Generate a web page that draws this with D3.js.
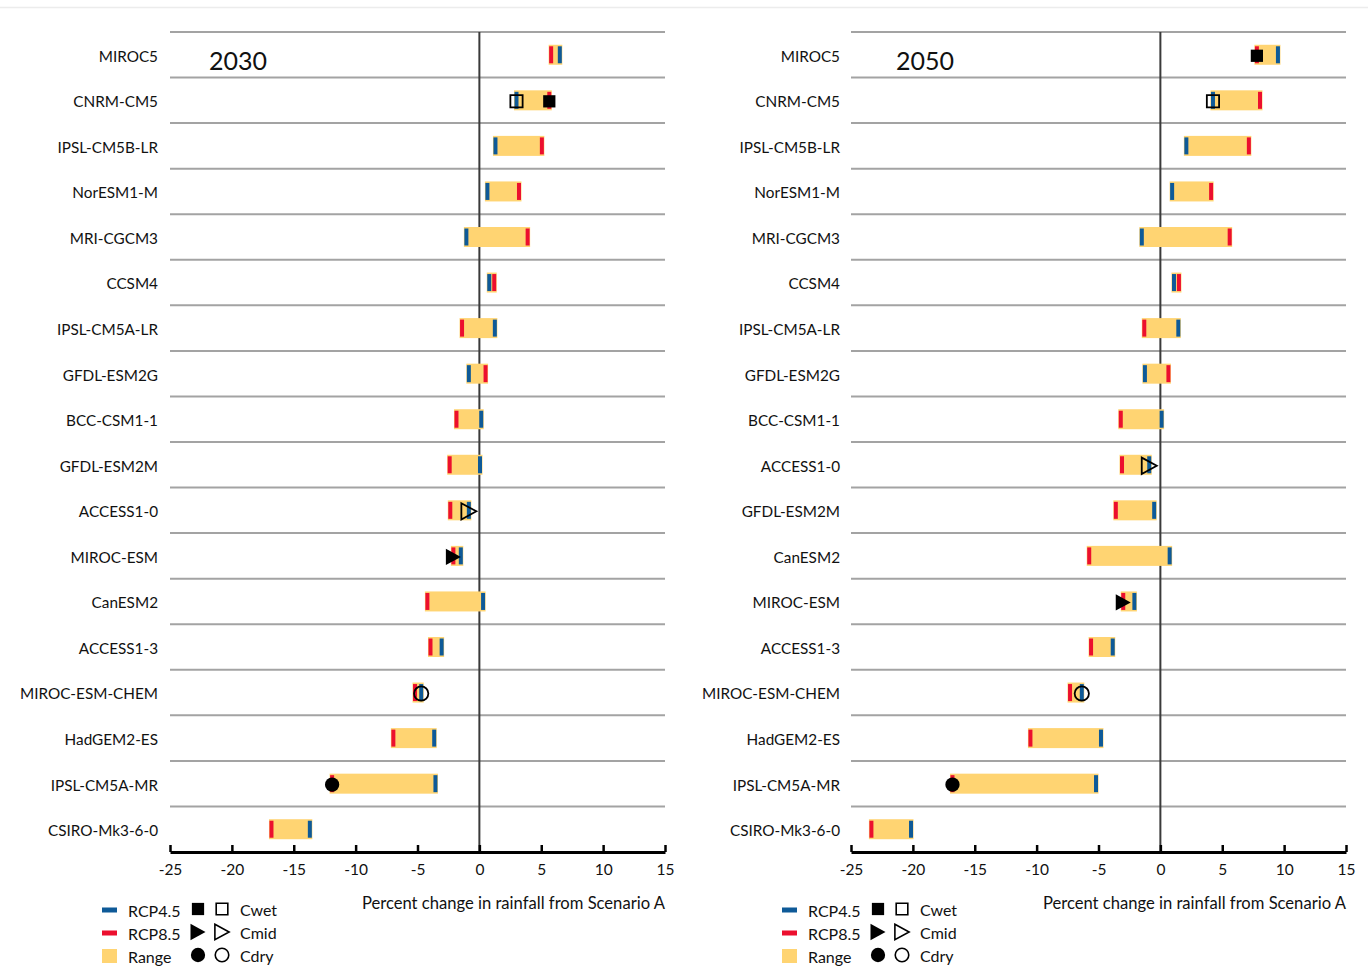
<!DOCTYPE html>
<html>
<head>
<meta charset="utf-8">
<script src="https://cdn.jsdelivr.net/npm/d3@7/dist/d3.min.js"></script>
<style>
  html, body { margin: 0; padding: 0; background: #fff; }
  svg { display: block; }
  text { font-family: Lato, "Open Sans", sans-serif; fill: #111; }
</style>
</head>
<body>
<svg id="chart" width="1368" height="972"></svg>
<script>
// Percent change in rainfall from Scenario A, per GCM, for two horizons.
const models2030 = ["MIROC5", "CNRM-CM5", "IPSL-CM5B-LR", "NorESM1-M", "MRI-CGCM3", "CCSM4",
  "IPSL-CM5A-LR", "GFDL-ESM2G", "BCC-CSM1-1", "GFDL-ESM2M", "ACCESS1-0", "MIROC-ESM",
  "CanESM2", "ACCESS1-3", "MIROC-ESM-CHEM", "HadGEM2-ES", "IPSL-CM5A-MR", "CSIRO-Mk3-6-0"];
const rcp45_2030 = [6.5, 3.0, 1.3, 0.65, -1.05, 0.8, 1.25, -0.85, 0.15, 0.05, -0.85, -1.5,
  0.3, -3.05, -4.7, -3.65, -3.55, -13.7];
const rcp85_2030 = [5.8, 5.65, 5.05, 3.2, 3.9, 1.2, -1.4, 0.5, -1.85, -2.4, -2.35, -2.1,
  -4.2, -3.95, -5.2, -6.95, -11.9, -16.8];

const models2050 = ["MIROC5", "CNRM-CM5", "IPSL-CM5B-LR", "NorESM1-M", "MRI-CGCM3", "CCSM4",
  "IPSL-CM5A-LR", "GFDL-ESM2G", "BCC-CSM1-1", "ACCESS1-0", "GFDL-ESM2M", "CanESM2",
  "MIROC-ESM", "ACCESS1-3", "MIROC-ESM-CHEM", "HadGEM2-ES", "IPSL-CM5A-MR", "CSIRO-Mk3-6-0"];
const rcp45_2050 = [9.5, 4.25, 2.1, 0.95, -1.5, 1.1, 1.45, -1.25, 0.1, -0.9, -0.5, 0.75,
  -2.1, -3.85, -6.35, -4.8, -5.2, -20.15];
const rcp85_2050 = [7.8, 8.05, 7.15, 4.1, 5.6, 1.5, -1.3, 0.65, -3.2, -3.1, -3.6, -5.75,
  -3.0, -5.6, -7.3, -10.5, -16.8, -23.35];

// Selected climate cases: [model, scenario, case]
const cases2030 = [["CNRM-CM5", "RCP4.5", "Cwet"], ["CNRM-CM5", "RCP8.5", "Cwet"],
  ["ACCESS1-0", "RCP4.5", "Cmid"], ["MIROC-ESM", "RCP8.5", "Cmid"],
  ["MIROC-ESM-CHEM", "RCP4.5", "Cdry"], ["IPSL-CM5A-MR", "RCP8.5", "Cdry"]];
const cases2050 = [["MIROC5", "RCP8.5", "Cwet"], ["CNRM-CM5", "RCP4.5", "Cwet"],
  ["ACCESS1-0", "RCP4.5", "Cmid"], ["MIROC-ESM", "RCP8.5", "Cmid"],
  ["MIROC-ESM-CHEM", "RCP4.5", "Cdry"], ["IPSL-CM5A-MR", "RCP8.5", "Cdry"]];

const xTicks = [-25, -20, -15, -10, -5, 0, 5, 10, 15];
const xDomain = [-25, 15];
const axisTitle = "Percent change in rainfall from Scenario A";
const legendSeries = ["RCP4.5", "RCP8.5", "Range"];
const legendCases = ["Cwet", "Cmid", "Cdry"];

const COLORS = { "RCP4.5": "#0E5A98", "RCP8.5": "#EC0F2E", range: "#FFD472" };

// Right-pointing triangle, centred on its bounding box
const symbolTriRight = {
  draw(ctx, size) {
    const h = Math.sqrt(size) * 1.25, w = h * 0.92;
    ctx.moveTo(-w / 2, -h / 2);
    ctx.lineTo(w / 2, 0);
    ctx.lineTo(-w / 2, h / 2);
    ctx.closePath();
  }
};
const caseSymbol = { Cwet: d3.symbolSquare, Cmid: symbolTriRight, Cdry: d3.symbolCircle };
const caseSize = { Cwet: 150, Cmid: 170, Cdry: 160 };

const svg = d3.select("#chart");

// faint frame line along the top
svg.append("line").attr("x1", 0).attr("x2", 1368).attr("y1", 7.5).attr("y2", 7.5)
  .attr("stroke", "#ececec").attr("stroke-width", 1.5);

const panels = [
  { models: models2030, r45: rcp45_2030, r85: rcp85_2030, cases: cases2030, year: "2030",
    x0: 170, x1: 665, labelX: 158, yearX: 209, legX: 102 },
  { models: models2050, r45: rcp45_2050, r85: rcp85_2050, cases: cases2050, year: "2050",
    x0: 851, x1: 1346, labelX: 840, yearX: 896, legX: 782 }
];

const yTop = 32, yBottom = 852;

panels.forEach(p => {
  const g = svg.append("g");
  const x = d3.scaleLinear().domain(xDomain).range([p.x0, p.x1]);
  const y = d3.scaleBand().domain(p.models).range([yTop, yBottom]).padding(0);
  const cy = m => y(m) + y.bandwidth() / 2;

  const rows = p.models.map((m, i) => ({ m, r45: p.r45[i], r85: p.r85[i] }));

  // row separators
  g.selectAll("line.grid").data(p.models).join("line").attr("class", "grid")
    .attr("x1", p.x0).attr("x2", p.x1)
    .attr("y1", d => y(d)).attr("y2", d => y(d))
    .attr("stroke", "#a3a3a3").attr("stroke-width", 2);

  // zero line
  g.append("line").attr("x1", x(0)).attr("x2", x(0)).attr("y1", yTop).attr("y2", yBottom)
    .attr("stroke", "#3a3a3a").attr("stroke-width", 2);

  // model labels
  g.selectAll("text.model").data(p.models).join("text").attr("class", "model")
    .attr("x", p.labelX).attr("y", d => cy(d) + 1.5).attr("dy", "0.35em")
    .attr("text-anchor", "end").attr("font-size", 15.3).text(d => d);

  // range bars
  const pad = 2.5;
  g.selectAll("rect.range").data(rows).join("rect").attr("class", "range")
    .attr("x", d => x(Math.min(d.r45, d.r85)) - pad)
    .attr("width", d => Math.abs(x(d.r45) - x(d.r85)) + 2 * pad)
    .attr("y", d => cy(d.m) - 10).attr("height", 20)
    .attr("fill", COLORS.range);

  // scenario ticks
  [["r85", "RCP8.5"], ["r45", "RCP4.5"]].forEach(([k, s]) => {
    g.selectAll("rect.t" + k).data(rows).join("rect").attr("class", "t" + k)
      .attr("x", d => x(d[k]) - 2).attr("width", 4)
      .attr("y", d => cy(d.m) - 8.5).attr("height", 17)
      .attr("fill", COLORS[s]);
  });

  // climate case markers: filled = RCP8.5, open = RCP4.5
  g.selectAll("path.case").data(p.cases).join("path").attr("class", "case")
    .attr("d", d => d3.symbol(caseSymbol[d[2]], caseSize[d[2]])())
    .attr("transform", d => {
      const i = p.models.indexOf(d[0]);
      const v = d[1] === "RCP4.5" ? p.r45[i] : p.r85[i];
      return `translate(${x(v)},${cy(d[0]) + 1})`;
    })
    .attr("fill", d => d[1] === "RCP8.5" ? "#000" : "none")
    .attr("stroke", "#000").attr("stroke-width", d => d[1] === "RCP8.5" ? 0 : 1.8);

  // x axis with inward ticks
  const ax = g.append("g").attr("transform", `translate(0,${yBottom})`)
    .call(d3.axisBottom(x).tickValues(xTicks).tickSize(-7).tickSizeOuter(0).tickPadding(12)
      .tickFormat(d3.format("d")));
  ax.select(".domain").attr("stroke", "#000").attr("stroke-width", 3);
  ax.selectAll(".tick line").attr("stroke", "#000").attr("stroke-width", 2.5);
  ax.selectAll(".tick text").attr("font-size", 15.5)
    .attr("font-family", "Lato, 'Open Sans', sans-serif").attr("fill", "#111")
    .text(d => d < 0 ? "-" + Math.abs(d) : d);

  // year label
  g.append("text").attr("x", p.yearX).attr("y", 70).attr("font-size", 25).text(p.year);

  // axis title
  g.append("text").attr("x", p.x1).attr("y", 909).attr("text-anchor", "end")
    .attr("font-size", 16.6).text(axisTitle);

  // legend
  const lg = g.append("g").attr("transform", `translate(${p.legX},0)`);
  const rowY = [910, 933, 956];
  legendSeries.forEach((s, i) => {
    if (s === "Range") {
      lg.append("rect").attr("x", 0).attr("y", rowY[i] - 7).attr("width", 15).attr("height", 14)
        .attr("fill", COLORS.range);
    } else {
      lg.append("rect").attr("x", 0).attr("y", rowY[i] - 2.5).attr("width", 15).attr("height", 5)
        .attr("fill", COLORS[s]);
    }
    lg.append("text").attr("x", 26).attr("y", rowY[i] + 1).attr("dy", "0.35em")
      .attr("font-size", 16).text(s);
  });
  legendCases.forEach((c, i) => {
    lg.append("path").attr("d", d3.symbol(caseSymbol[c], caseSize[c])())
      .attr("transform", `translate(96,${rowY[i] - 1})`).attr("fill", "#000");
    lg.append("path").attr("d", d3.symbol(caseSymbol[c], caseSize[c] * 0.9)())
      .attr("transform", `translate(120,${rowY[i] - 1})`)
      .attr("fill", "none").attr("stroke", "#000").attr("stroke-width", 1.6);
    lg.append("text").attr("x", 138).attr("y", rowY[i]).attr("dy", "0.35em")
      .attr("font-size", 16).text(c);
  });
});
</script>
</body>
</html>
